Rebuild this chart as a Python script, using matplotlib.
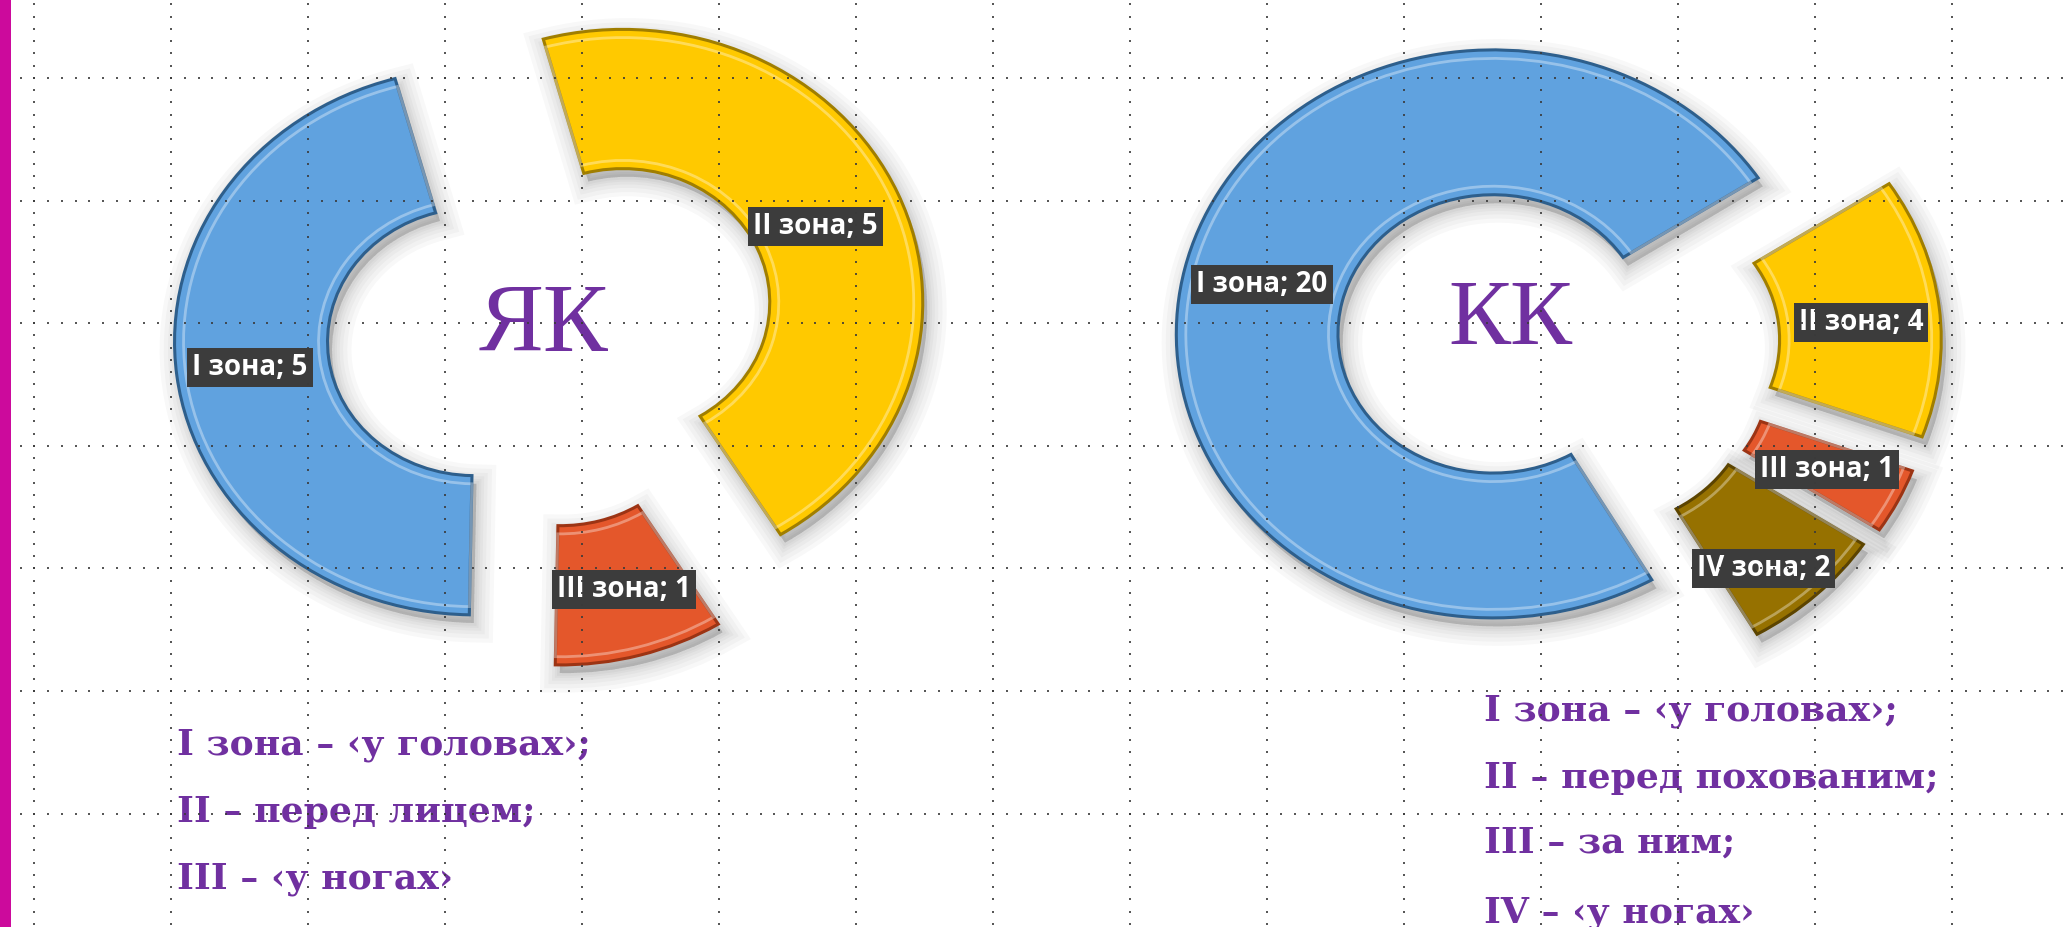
import numpy as np
import matplotlib.pyplot as plt

W, H = 2072, 927

# data
zones_yk = ['I зона', 'II зона', 'III зона']
values_yk = [5, 5, 1]
zones_kk = ['I зона', 'II зона', 'III зона', 'IV зона']
values_kk = [20, 4, 1, 2]

notes_yk = ['I зона – ‹у головах›;', 'II – перед лицем;', 'III – ‹у ногах›']
notes_kk = ['I зона – ‹у головах›;', 'II – перед похованим;', 'III – за ним;', 'IV – ‹у ногах›']

colors = ['#60A2DF', '#FFC900', '#E4572B', '#967100']
edges = ['#2E5F8C', '#A07E00', '#9C3414', '#5C4400']
purple = '#7030A0'

fig = plt.figure(figsize=(W / 100, H / 100), dpi=100)
fig.patch.set_facecolor('white')

# background layer: magenta bar, in pixel coords
bg = fig.add_axes([0, 0, 1, 1], zorder=0)
bg.set_xlim(0, W)
bg.set_ylim(H, 0)
bg.axis('off')
bg.axvspan(0, 11, color='#CC0A9C', lw=0)


def donut(cx, cy, rx, ry, values, zones, start, explode, label_r, label_dt):
    L = 1.6
    ax = fig.add_axes([(cx - L * rx) / W, 1 - (cy + L * ry) / H,
                       2 * L * rx / W, 2 * L * ry / H], zorder=2)
    n = len(values)
    st = 90 - start   # excel angle (clockwise from top) -> matplotlib
    ring = 0.51
    # soft shadow
    for lw in [28, 22, 16, 11, 7, 4]:
        ax.pie(values, explode=explode, startangle=st, counterclock=False,
               center=(0.015, -0.03), colors=['#000000'] * n,
               wedgeprops=dict(width=ring, linewidth=lw, edgecolor='#000000',
                               alpha=0.028))
    labels = ['%s; %d' % (z, v) for z, v in zip(zones, values)]
    wedges, texts = ax.pie(values, labels=labels, explode=explode, startangle=st,
                           counterclock=False, colors=colors[:n],
                           wedgeprops=dict(width=ring, linewidth=2.2))
    for w, ec in zip(wedges, edges):
        w.set_edgecolor(ec)
    # bevel highlight
    ax.pie(values, explode=explode, startangle=st, counterclock=False, radius=0.97,
           wedgeprops=dict(width=ring - 0.06, facecolor='none', edgecolor='white',
                           linewidth=2, alpha=0.35))
    for w, t, r, dt in zip(wedges, texts, label_r, label_dt):
        th = np.deg2rad((w.theta1 + w.theta2) / 2 + dt)
        x0, y0 = w.center
        t.set_position((x0 + r * np.cos(th), y0 + r * np.sin(th)))
        t.set_ha('center')
        t.set_va('center')
        t.set_color('white')
        t.set_fontsize(20)
        t.set_fontweight('bold')
        t.set_family('Open Sans')
        t.set_zorder(5)
        t.set_bbox(dict(boxstyle='square,pad=0.18', fc='#3C3C3C', ec='none'))
    ax.set_xlim(-L, L)
    ax.set_ylim(-L, L)
    ax.set_aspect('auto')
    ax.axis('off')


donut(543, 334, 300, 273, values_yk, zones_yk, 181, [0.23, 0.29, 0.22],
      [0.755, 0.70, 0.755], [0, 0, 1])
donut(1555, 347, 317, 284, values_kk, zones_kk, 150, [0.2, 0.22, 0.21, 0.2],
      [0.75, 0.75, 0.75, 0.82], [0, -2, 0, -4])

# titles in the holes
txt = fig.add_axes([0, 0, 1, 1], zorder=3)
txt.set_xlim(0, W)
txt.set_ylim(H, 0)
txt.axis('off')
txt.text(543, 328, 'ЯК', ha='center', va='center', fontsize=70, color=purple,
         family='Liberation Serif')
txt.text(1510, 322, 'КК', ha='center', va='center', fontsize=67, color=purple,
         family='Liberation Serif')

for s, yb in zip(notes_yk, [754, 822, 888]):
    txt.text(177, yb, s, ha='left', va='baseline', fontsize=26, color=purple,
             family='DejaVu Serif', fontweight='bold')
for s, yb in zip(notes_kk, [720, 788, 853, 922]):
    txt.text(1484, yb, s, ha='left', va='baseline', fontsize=26, color=purple,
             family='DejaVu Serif', fontweight='bold')

# dotted slide grid on top
top = fig.add_axes([0, 0, 1, 1], zorder=10)
top.set_xlim(0, W)
top.set_ylim(H, 0)
top.axis('off')
top.patch.set_alpha(0)
gx = 34.4 + 137 * np.arange(15)
gy = 78 + 122.6 * np.arange(7)
for y in gy:
    xs = np.arange(20.7, W, 13.7)
    top.plot(xs, np.full_like(xs, y), ls='none', marker='s', ms=1.5, mew=0,
             color='#3A3A3A', alpha=0.85)
for x in gx:
    ys = np.arange(4.4, H, 12.26)
    top.plot(np.full_like(ys, x), ys, ls='none', marker='s', ms=1.5, mew=0,
             color='#3A3A3A', alpha=0.85)

fig.savefig('out.png', dpi=100)
